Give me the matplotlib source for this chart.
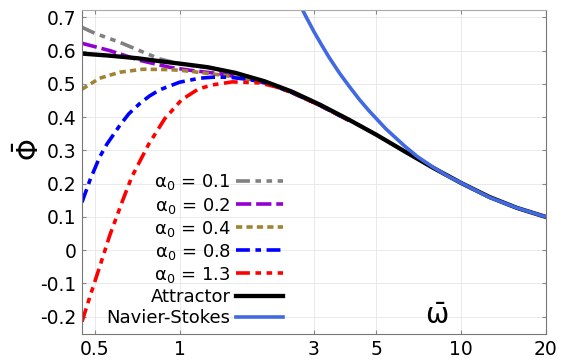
import matplotlib
matplotlib.use("Agg")
import matplotlib.pyplot as plt

plt.rcParams['font.family'] = ['DejaVu Sans']
plt.rcParams['mathtext.fontset'] = 'dejavusans'
plt.rcParams['mathtext.default'] = 'regular'
plt.rcParams['axes.unicode_minus'] = False
plt.rcParams['lines.scale_dashes'] = False

# data (x is omega-bar, y is Phi-bar)
att_x = [0.45, 0.56, 0.71, 0.89, 1.0, 1.26, 1.58, 2.0, 2.5, 3.16, 4.0, 5.0, 6.3, 7.9, 10, 12.6, 15.8, 20]
att_y = [0.591, 0.585, 0.577, 0.566, 0.561, 0.550, 0.533, 0.508, 0.477, 0.437, 0.392, 0.347, 0.297, 0.249, 0.202, 0.160, 0.127, 0.100]

ns_x = [2.65, 2.8, 3.0, 3.2, 3.4, 3.7, 4.0, 4.35, 4.72, 5.4, 6.3, 7.0, 7.9, 9.0, 10, 12.6, 15.8, 20]
ns_y = [0.745, 0.705, 0.657, 0.616, 0.579, 0.532, 0.493, 0.453, 0.418, 0.365, 0.313, 0.281, 0.251, 0.222, 0.202, 0.159, 0.127, 0.100]

a01_x = [0.45, 0.5, 0.613, 0.72, 0.85, 1.0, 1.26, 1.58, 2.0, 2.5, 3.16, 4.0]
a01_y = [0.670, 0.652, 0.625, 0.600, 0.575, 0.560, 0.549, 0.532, 0.507, 0.476, 0.436, 0.391]

a02_x = [0.45, 0.565, 0.72, 0.92, 1.11, 1.4, 1.8, 2.2, 2.5, 3.16, 4.0]
a02_y = [0.622, 0.600, 0.571, 0.550, 0.540, 0.530, 0.513, 0.493, 0.475, 0.435, 0.390]

a04_x = [0.45, 0.52, 0.613, 0.74, 0.90, 1.0, 1.11, 1.42, 1.73, 2.0, 2.5, 3.16, 4.0]
a04_y = [0.484, 0.517, 0.535, 0.544, 0.543, 0.541, 0.537, 0.526, 0.515, 0.505, 0.474, 0.435, 0.390]

a08_x = [0.45, 0.48, 0.52, 0.551, 0.613, 0.66, 0.72, 0.78, 0.849, 1.0, 1.177, 1.31, 1.5, 1.73, 2.0, 2.5, 3.16, 4.0]
a08_y = [0.144, 0.210, 0.280, 0.318, 0.375, 0.410, 0.440, 0.463, 0.482, 0.505, 0.517, 0.520, 0.520, 0.514, 0.505, 0.474, 0.435, 0.390]

a13_x = [0.45, 0.48, 0.52, 0.565, 0.628, 0.676, 0.776, 0.885, 1.016, 1.168, 1.31, 1.54, 1.92, 2.2, 2.5, 3.16, 4.0]
a13_y = [-0.215, -0.14, -0.05, 0.045, 0.150, 0.220, 0.318, 0.395, 0.452, 0.485, 0.497, 0.506, 0.503, 0.491, 0.474, 0.435, 0.390]

xticks = [0.5, 1, 3, 5, 10, 20]
xticklabels = ['0.5', '1', '3', '5', '10', '20']
yticks = [-0.2, -0.1, 0, 0.1, 0.2, 0.3, 0.4, 0.5, 0.6, 0.7]
yticklabels = ['-0.2', '-0.1', '0', '0.1', '0.2', '0.3', '0.4', '0.5', '0.6', '0.7']

fig = plt.figure(figsize=(5.63, 3.62), dpi=100)
ax = fig.add_axes([0.1456, 0.0773, 0.824, 0.895])

lw = 2.6
ax.plot(a01_x, a01_y, color='#808080', lw=lw, ls=(0, (10, 4, 4, 4, 4, 4)), label=r'$\alpha_0$ = 0.1')
ax.plot(a02_x, a02_y, color='#9400D3', lw=lw, ls=(0, (11, 3.5)), label=r'$\alpha_0$ = 0.2')
ax.plot(a04_x, a04_y, color='#A08434', lw=lw, ls=(0, (4.5, 3)), label=r'$\alpha_0$ = 0.4')
ax.plot(a08_x, a08_y, color='#0000FF', lw=lw, ls=(0, (10, 4, 4, 4)), label=r'$\alpha_0$ = 0.8')
ax.plot(a13_x, a13_y, color='#FF0000', lw=lw, ls=(0, (10, 4, 4, 4, 4, 4)), label=r'$\alpha_0$ = 1.3')
ax.plot(att_x, att_y, color='black', lw=3.1, label='Attractor')
ax.plot(ns_x, ns_y, color='#4169E1', lw=2.6, label='Navier-Stokes')

ax.set_xscale('log')
ax.set_xlim(0.45, 20)
ax.set_ylim(-0.252, 0.722)
ax.set_xticks(xticks)
ax.set_xticklabels(xticklabels)
ax.xaxis.set_minor_locator(matplotlib.ticker.NullLocator())
ax.set_yticks(yticks)
ax.set_yticklabels(yticklabels)

ax.grid(True, color='#e6e6e6', lw=0.6)
ax.tick_params(direction='in', length=3, color='#888888', labelsize=13.5,
               top=True, right=True, pad=4)
for s in ax.spines.values():
    s.set_color('#777777')
ax.spines['top'].set_color('#aaaaaa')

ax.set_ylabel(r'$\bar{\Phi}$', fontsize=20)
ax.yaxis.set_label_coords(-0.08, 0.568)
ax.text(0.765, 0.012, r'$\bar{\omega}$', transform=ax.transAxes, fontsize=20,
        ha='center', va='bottom')

leg = ax.legend(loc='lower right', bbox_to_anchor=(0.433, 0.022), frameon=False,
                markerfirst=False, fontsize=13, handlelength=2.6, handletextpad=0.3,
                labelspacing=0.17, borderpad=0, borderaxespad=0)

fig.savefig('out.png', dpi=100)
